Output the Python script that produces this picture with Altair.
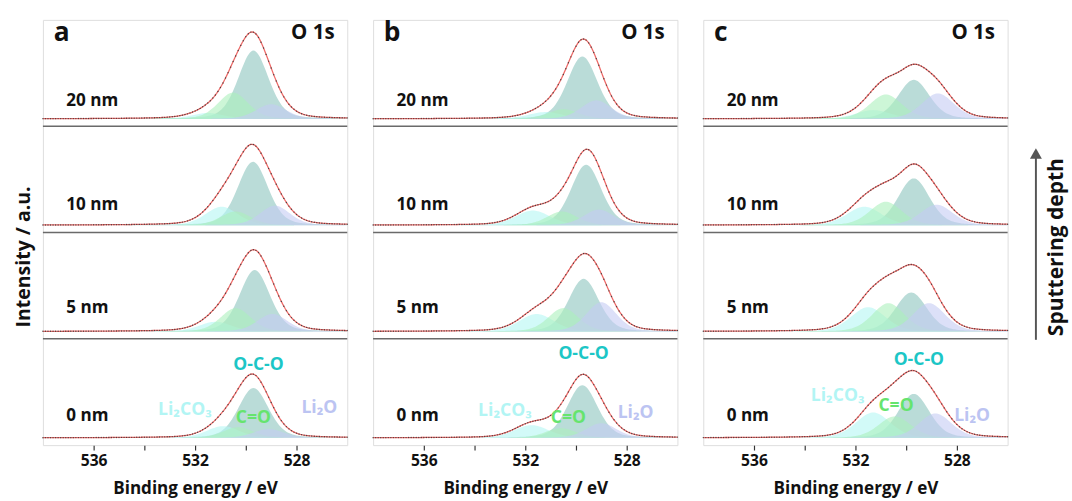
import altair as alt
import numpy as np
import pandas as pd

# ---------------- values ----------------
PANELS = ["a", "b", "c"]
DEPTHS = ["0 nm", "5 nm", "10 nm", "20 nm"]          # bottom -> top
COMPONENTS = ["O-C-O", "Li₂CO₃", "C=O", "Li₂O"]
TICKS = [536, 534, 532, 530, 528]

# peak FWHM (eV) per panel, order = COMPONENTS
FWHM_A = [1.40, 1.50, 1.40, 1.40]
FWHM_B = [1.40, 1.60, 1.40, 1.40]
FWHM_C = [1.45, 1.60, 1.50, 1.50]

# peak centres (eV), per depth, order = COMPONENTS
CENTERS_A = {"0 nm": [529.70, 530.90, 530.30, 529.10], "5 nm": [529.65, 531.20, 530.40, 528.95],
             "10 nm": [529.72, 530.95, 530.40, 528.85], "20 nm": [529.70, 531.50, 530.50, 529.00]}
HEIGHTS_A = {"0 nm": [51, 12, 11, 9], "5 nm": [63, 10, 24, 18],
             "10 nm": [65, 19, 14, 20], "20 nm": [70, 6, 27, 15]}
CENTERS_B = {"0 nm": [529.75, 531.75, 530.60, 529.00], "5 nm": [529.70, 531.55, 530.50, 529.00],
             "10 nm": [529.60, 531.70, 530.55, 529.10], "20 nm": [529.75, 531.20, 530.50, 529.20]}
HEIGHTS_B = {"0 nm": [54, 13, 10, 15], "5 nm": [54, 18, 24, 30],
             "10 nm": [62, 15, 14, 16], "20 nm": [64, 7, 10, 19]}
CENTERS_C = {"0 nm": [529.70, 531.30, 530.45, 528.85], "5 nm": [529.80, 531.50, 530.70, 529.10],
             "10 nm": [529.70, 531.65, 530.80, 528.80], "20 nm": [529.70, 531.30, 530.80, 528.75]}
HEIGHTS_C = {"0 nm": [45, 26, 22, 25], "5 nm": [40, 25, 29, 29],
             "10 nm": [48, 19, 24, 21], "20 nm": [40, 9, 25, 26]}

CENTERS = {"a": CENTERS_A, "b": CENTERS_B, "c": CENTERS_C}
HEIGHTS = {"a": HEIGHTS_A, "b": HEIGHTS_B, "c": HEIGHTS_C}
FWHM = {"a": FWHM_A, "b": FWHM_B, "c": FWHM_C}

# ---------------- layout / style (not data) ----------------
W, H = 312, 436
ROW_H = 109.0
BASE = 7.5
FILL = {"O-C-O": "#b2d8d4", "Li₂CO₃": "#b4f6f4", "C=O": "#acf0bc", "Li₂O": "#c4ccf3"}
FILL_OP = {"O-C-O": 0.9, "Li₂CO₃": 0.6, "C=O": 0.6, "Li₂O": 0.6}
LABEL_COL = {"O-C-O": "#1cc6c6", "Li₂CO₃": "#b2f5f4", "C=O": "#66e46e", "Li₂O": "#bcc4f2"}
ROW_LABEL_DY = {"0 nm": 22, "5 nm": 24, "10 nm": 21, "20 nm": 18}
# annotation positions (BE, height above bottom of the 0 nm row) in each panel
ANNOT = {
    "a": {"O-C-O": (529.5, 82), "Li₂CO₃": (532.4, 36), "C=O": (529.7, 28), "Li₂O": (527.1, 38)},
    "b": {"O-C-O": (529.7, 93), "Li₂CO₃": (532.8, 35), "C=O": (530.3, 28), "Li₂O": (527.65, 33)},
    "c": {"O-C-O": (529.5, 87), "Li₂CO₃": (532.7, 50), "C=O": (530.4, 40), "Li₂O": (527.4, 30)},
}
FONT = "Open Sans"

BE_FINE = np.round(np.arange(526.0, 538.0001, 0.05), 3)
BE_DOTS = np.round(np.arange(526.0, 538.0001, 0.1), 2)


def peak(x, c, h, w, eta=0.25):
    g = np.exp(-4 * np.log(2) * (x - c) ** 2 / w ** 2)
    l = 1.0 / (1.0 + 4 * (x - c) ** 2 / w ** 2)
    return h * ((1 - eta) * g + eta * l)


XS = alt.Scale(domain=[526, 538], reverse=True, nice=False, zero=False)
YS = alt.Scale(domain=[0, H], nice=False, zero=False)
XAX = alt.Axis(values=TICKS, labelExpr="datum.value % 4 == 0 ? datum.label : ''",
               title="Binding energy / eV", grid=False, domain=False, tickColor="#333",
               tickSize=5, tickWidth=1.2, labelFontSize=16, labelFontWeight="bold",
               labelColor="#111", labelPadding=3, titleFontSize=17.5, titleFontWeight="bold",
               titleColor="#111", titlePadding=12, labelFont=FONT, titleFont=FONT)
X = alt.X("be:Q", scale=XS, axis=XAX)


def panel(p, first):
    comp_rows, env_rows, dot_rows = [], [], []
    for i, d in enumerate(DEPTHS):
        base = i * ROW_H + BASE
        env_f = np.zeros_like(BE_FINE)
        env_d = np.zeros_like(BE_DOTS)
        for k, comp in enumerate(COMPONENTS):
            c, h, w = CENTERS[p][d][k], HEIGHTS[p][d][k], FWHM[p][k]
            v = peak(BE_FINE, c, h, w)
            env_f += v
            env_d += peak(BE_DOTS, c, h, w)
            for x, val in zip(BE_FINE, v):
                if val > 0.3:
                    comp_rows.append({"depth": d, "comp": comp, "be": x, "lo": base, "hi": base + val})
        for x, val in zip(BE_FINE, env_f):
            env_rows.append({"depth": d, "be": x, "y": base + val})
        for x, val in zip(BE_DOTS, env_d):
            dot_rows.append({"depth": d, "be": x, "y": base + val})
    comp_df = pd.DataFrame(comp_rows)
    env_df = pd.DataFrame(env_rows)
    dot_df = pd.DataFrame(dot_rows)

    layers = []
    for comp in COMPONENTS:
        layers.append(
            alt.Chart(comp_df[comp_df.comp == comp]).mark_area(
                color=FILL[comp], opacity=FILL_OP[comp], strokeWidth=0
            ).encode(x=X, y=alt.Y("hi:Q", scale=YS, axis=None, stack=None), y2="lo:Q", detail="depth:N")
        )
    layers.append(
        alt.Chart(env_df).mark_line(color="#ee6a68", strokeWidth=1.3).encode(
            x=X, y=alt.Y("y:Q", scale=YS, axis=None), detail="depth:N")
    )
    layers.append(
        alt.Chart(dot_df).mark_circle(size=2, color="#3a3a3a", opacity=0.9).encode(
            x=X, y=alt.Y("y:Q", scale=YS, axis=None))
    )
    sep_df = pd.DataFrame({"y": [ROW_H * j for j in range(1, 4)]})
    layers.append(
        alt.Chart(sep_df).mark_rule(color="#6a6a6a", strokeWidth=1.5).encode(
            y=alt.Y("y:Q", scale=YS, axis=None))
    )
    rl_df = pd.DataFrame({"t": DEPTHS, "y": [i * ROW_H + BASE + ROW_LABEL_DY[d] for i, d in enumerate(DEPTHS)]})
    layers.append(
        alt.Chart(rl_df).mark_text(align="left", baseline="middle", fontSize=17.5, fontWeight="bold",
                                   font=FONT, color="#111").encode(
            text="t:N", x=alt.value(24), y=alt.Y("y:Q", scale=YS, axis=None))
    )
    an = ANNOT[p]
    an_df = pd.DataFrame({"t": COMPONENTS, "be": [an[c][0] for c in COMPONENTS],
                          "y": [an[c][1] for c in COMPONENTS]})
    layers.append(
        alt.Chart(an_df).mark_text(align="center", baseline="middle", fontSize=18, fontWeight="bold",
                                   font=FONT).encode(
            text="t:N", x=X, y=alt.Y("y:Q", scale=YS, axis=None),
            color=alt.Color("t:N", scale=alt.Scale(domain=COMPONENTS,
                                                   range=[LABEL_COL[c] for c in COMPONENTS]), legend=None))
    )
    layers.append(
        alt.Chart(pd.DataFrame({"t": [p]})).mark_text(align="left", baseline="middle", fontSize=27,
                                                      fontWeight="bold", font=FONT, color="#111").encode(
            text="t:N", x=alt.value(11), y=alt.value(14))
    )
    layers.append(
        alt.Chart(pd.DataFrame({"t": ["O 1s"]})).mark_text(align="right", baseline="middle", fontSize=21,
                                                           fontWeight="bold", font=FONT, color="#111").encode(
            text="t:N", x=alt.value(299), y=alt.value(14))
    )
    if first:
        layers.append(
            alt.Chart(pd.DataFrame({"t": ["Intensity / a.u."]})).mark_text(
                align="center", baseline="middle", fontSize=20, fontWeight="bold", font=FONT,
                color="#111", angle=270).encode(text="t:N", x=alt.value(-19), y=alt.value(243))
        )
    return alt.layer(*layers).properties(width=W, height=H)


arrow_panel = alt.layer(
    alt.Chart(pd.DataFrame({"t": ["Sputtering depth"]})).mark_rule(color="#555555", strokeWidth=2).encode(
        x=alt.value(-4.5), y=alt.value(140), y2=alt.value(328)),
    alt.Chart(pd.DataFrame({"t": ["Sputtering depth"]})).mark_point(
        shape="triangle-up", filled=True, size=150, color="#555555", opacity=1).encode(
        x=alt.value(-4.5), y=alt.value(137)),
    alt.Chart(pd.DataFrame({"t": ["Sputtering depth"]})).mark_text(
        align="center", baseline="middle", fontSize=21.5, fontWeight="bold", font=FONT, color="#111",
        angle=270).encode(text="t:N", x=alt.value(17.5), y=alt.value(233)),
).properties(width=30, height=H, view=alt.ViewBackground(stroke=None))

chart = alt.hconcat(panel("a", True), panel("b", False), panel("c", False), arrow_panel,
                    spacing=18.5).properties(
    padding={"left": 14, "top": 13, "right": 2, "bottom": 2}
).configure_view(stroke="#6a6a6a", strokeWidth=1.5).configure(font=FONT)

chart.save("out.html", embed_options={"renderer": "svg", "actions": False})
